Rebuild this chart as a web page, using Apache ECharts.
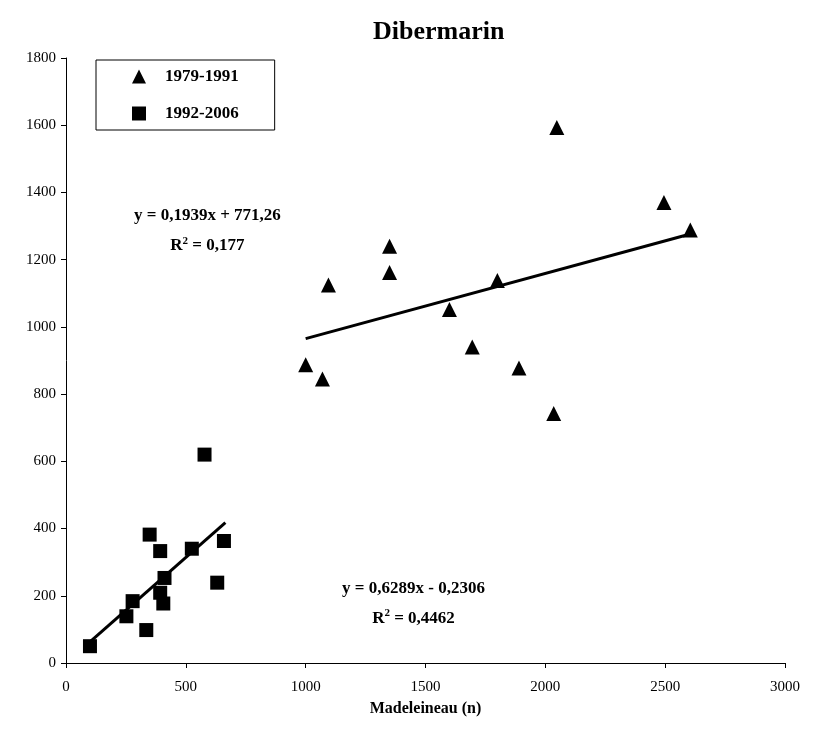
<!DOCTYPE html>
<html><head><meta charset="utf-8">
<script src="https://cdn.jsdelivr.net/npm/echarts@6/dist/echarts.min.js"></script>
<style>html,body{margin:0;padding:0;background:#fff}#c{width:817px;height:740px}</style>
</head><body><div id="c"></div>
<script>
var title = 'Dibermarin';
var xAxisName = 'Madeleineau (n)';
var seriesNames = ['1979-1991', '1992-2006'];
var xTicks = [0, 500, 1000, 1500, 2000, 2500, 3000];
var yTicks = [0, 200, 400, 600, 800, 1000, 1200, 1400, 1600, 1800];

var p1979x = [1000, 1070, 1095, 1350, 1350, 1600, 1695, 1800, 1890, 2035, 2048, 2495, 2605];
var p1979y = [887, 845, 1125, 1240, 1162, 1052, 940, 1138, 878, 742, 1593, 1370, 1288];

var p1992x = [100, 349, 393, 525, 659, 631, 278, 252, 335, 411, 393, 406, 578];
var p1992y = [50, 382, 333, 340, 363, 239, 184, 139, 98, 253, 209, 177, 620];

var trend1 = {slope: 0.1939, intercept: 771.26, xFrom: 1000, xTo: 2605};
var trend2 = {slope: 0.6289, intercept: -0.2306, xFrom: 100, xTo: 665};
var eq1 = ['y = 0,1939x + 771,26', '0,177'];
var eq2 = ['y = 0,6289x - 0,2306', '0,4462'];
var eq1Pos = [590, 1285];
var eq2Pos = [1450, 177];

function zip(a, b){ return a.map(function(v,i){ return [v, b[i]]; }); }
function line(t){ return [[t.xFrom, t.slope*t.xFrom + t.intercept],[t.xTo, t.slope*t.xTo + t.intercept]]; }

var font = 'Liberation Serif, Times New Roman, serif';
var chart = echarts.init(document.getElementById('c'));
chart.setOption({
  animation: false,
  backgroundColor: '#fff',
  title: {text: title, top: 14, left: 368,
    textStyle: {fontFamily: font, fontSize: 26, fontWeight: 'bold', color: '#000'}},
  grid: {left: 66, right: 32, top: 58, bottom: 77},
  legend: {
    data: [{name: seriesNames[0], icon: 'triangle'}, {name: seriesNames[1], icon: 'rect'}],
    orient: 'vertical', left: 96, top: 60,
    padding: [8, 36, 8, 36], itemGap: 20, itemWidth: 14, itemHeight: 14,
    borderColor: '#000', borderWidth: 1,
    textStyle: {fontFamily: font, fontSize: 17, fontWeight: 'bold', color: '#000', padding: [0,0,0,14]}
  },
  xAxis: {
    type: 'value', min: 0, max: 3000, interval: 500,
    name: xAxisName, nameLocation: 'middle', nameGap: 38,
    nameTextStyle: {fontFamily: font, fontSize: 16, fontWeight: 'bold', color: '#000'},
    axisLine: {show: true, lineStyle: {color: '#000', width: 1}},
    axisTick: {show: true, length: 5, lineStyle: {color: '#000'}},
    axisLabel: {fontFamily: font, fontSize: 15, color: '#000', margin: 17,
      formatter: function(v){ return String(v); }},
    splitLine: {show: false}
  },
  yAxis: {
    type: 'value', min: 0, max: 1800, interval: 200,
    axisLine: {show: true, lineStyle: {color: '#000', width: 1}},
    axisTick: {show: true, length: 5, lineStyle: {color: '#000'}},
    axisLabel: {fontFamily: font, fontSize: 15, color: '#000', margin: 10,
      formatter: function(v){ return String(v); }},
    splitLine: {show: false}
  },
  series: [
    {name: seriesNames[0], type: 'scatter', symbol: 'triangle', symbolSize: 15,
     itemStyle: {color: '#000', opacity: 1}, data: zip(p1979x, p1979y), z: 3},
    {name: seriesNames[1], type: 'scatter', symbol: 'rect', symbolSize: 14,
     itemStyle: {color: '#000', opacity: 1}, data: zip(p1992x, p1992y), z: 3},
    {name: 'trend1', type: 'line', data: line(trend1), showSymbol: false, symbol: 'none',
     lineStyle: {color: '#000', width: 3}, z: 2},
    {name: 'trend2', type: 'line', data: line(trend2), showSymbol: false, symbol: 'none',
     lineStyle: {color: '#000', width: 3}, z: 2}
  ]
});

function eqText(pos, eq){
  var p = chart.convertToPixel({xAxisIndex: 0, yAxisIndex: 0}, pos);
  return {
    type: 'text', x: p[0], y: p[1],
    style: {
      text: '{a|' + eq[0] + '}\n{a|R}{s|2}{a| = ' + eq[1] + '}',
      align: 'center', verticalAlign: 'middle',
      lineHeight: 30,
      rich: {
        a: {fontFamily: font, fontSize: 17, fontWeight: 'bold', fill: '#000', lineHeight: 30},
        s: {fontFamily: font, fontSize: 11, fontWeight: 'bold', fill: '#000', lineHeight: 30, padding: [0,0,10,0]}
      }
    }
  };
}
chart.setOption({graphic: [eqText(eq1Pos, eq1), eqText(eq2Pos, eq2)]});
</script></body></html>
